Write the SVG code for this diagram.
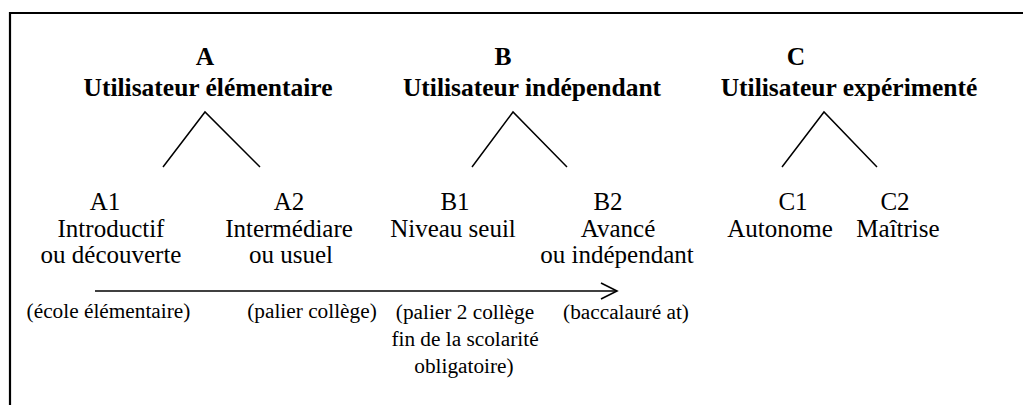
<svg xmlns="http://www.w3.org/2000/svg" width="1023" height="405" viewBox="0 0 1023 405">
  <style>
    text { font-family: "Liberation Serif", "Times New Roman", Times, "DejaVu Serif", serif; fill: #000; text-anchor: middle; }
    .head { font-weight: bold; font-size: 25.5px; }
    .lvl { font-size: 25px; }
    .note { font-size: 21.3px; }
    .frame { stroke: #000; stroke-width: 2.2; fill: none; }
    .branch { stroke: #000; stroke-width: 1.5; fill: none; }
    .axis { stroke: #000; stroke-width: 1.6; fill: none; }
  </style>

  <rect width="1023" height="405" fill="#fff"/>

  <!-- outer frame (top and left edges) -->
  <path class="frame" d="M10,406 V13 H1024"/>

  <!-- level groups -->
  <g id="group-a">
    <text class="head" x="205" y="65">A</text>
    <text class="head" x="208" y="96">Utilisateur élémentaire</text>
  </g>
  <g id="group-b">
    <text class="head" x="503" y="65">B</text>
    <text class="head" x="532" y="96">Utilisateur indépendant</text>
  </g>
  <g id="group-c">
    <text class="head" x="796" y="65">C</text>
    <text class="head" x="849" y="96">Utilisateur expérimenté</text>
  </g>

  <!-- sub-levels -->
  <g id="level-a1">
    <text class="lvl" x="105" y="210">A1</text>
    <text class="lvl" x="111" y="237">Introductif</text>
    <text class="lvl" x="111" y="263">ou découverte</text>
  </g>
  <g id="level-a2">
    <text class="lvl" x="289" y="210">A2</text>
    <text class="lvl" x="289" y="237">Intermédiare</text>
    <text class="lvl" x="291" y="263">ou usuel</text>
  </g>
  <g id="level-b1">
    <text class="lvl" x="455" y="210">B1</text>
    <text class="lvl" x="453" y="237">Niveau seuil</text>
  </g>
  <g id="level-b2">
    <text class="lvl" x="608" y="210">B2</text>
    <text class="lvl" x="618" y="237">Avancé</text>
    <text class="lvl" x="617" y="263">ou indépendant</text>
  </g>
  <g id="level-c1">
    <text class="lvl" x="793" y="210">C1</text>
    <text class="lvl" x="780" y="237">Autonome</text>
  </g>
  <g id="level-c2">
    <text class="lvl" x="895" y="210">C2</text>
    <text class="lvl" x="898" y="237">Maîtrise</text>
  </g>

  <!-- school stages under the axis -->
  <g id="stages">
    <text class="note" x="108.5" y="318">(école élémentaire)</text>
    <text class="note" x="312" y="318">(palier collège)</text>
    <text class="note" x="465" y="319">(palier 2 collège</text>
    <text class="note" x="465" y="346">fin de la scolarité</text>
    <text class="note" x="464" y="373">obligatoire)</text>
    <text class="note" x="626" y="319">(baccalauré at)</text>
  </g>

  <!-- connectors -->
  <g id="connectors">
    <path class="branch" d="M163,167 L205,112 L260,167"/>
    <path class="branch" d="M472,167 L513,112 L567,167"/>
    <path class="branch" d="M782,167 L824,112 L877,167"/>
    <path class="axis" d="M95,291 H617"/>
    <path class="axis" d="M601,283 L617,291 L601,299"/>
  </g>
</svg>
